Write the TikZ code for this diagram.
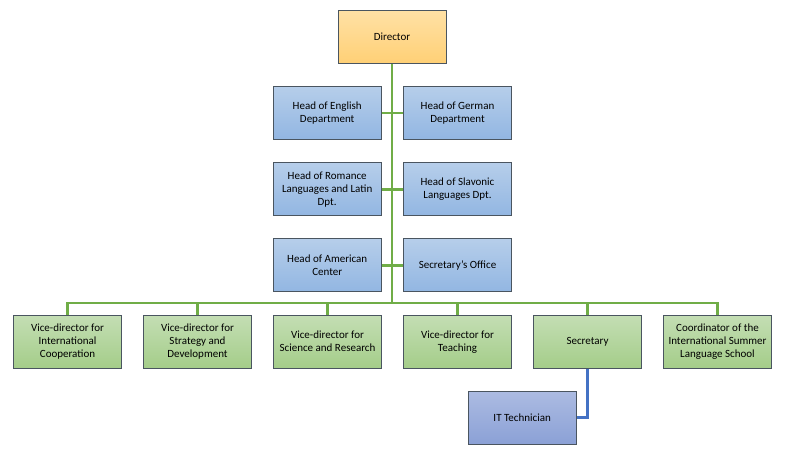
\documentclass[tikz,border=0pt]{standalone}
\usepackage{fontspec}
\setmainfont{Carlito}
\definecolor{gline}{HTML}{70AD47}
\definecolor{bline}{HTML}{4472C4}
\definecolor{bord}{HTML}{4A5560}
\tikzset{
  box/.style={draw=bord, line width=0.8pt, minimum width=108pt, minimum height=53pt,
    inner sep=1pt, align=center, font=\fontsize{11}{13}\selectfont},
  dirbox/.style={box, top color={rgb,255:red,255;green,225;blue,165}, bottom color={rgb,255:red,255;green,208;blue,118}},
  bluebox/.style={box, top color={rgb,255:red,182;green,206;blue,234}, bottom color={rgb,255:red,146;green,182;blue,226}},
  greenbox/.style={box, top color={rgb,255:red,196;green,222;blue,180}, bottom color={rgb,255:red,164;green,205;blue,137}},
  itbox/.style={box, top color={rgb,255:red,172;green,187;blue,226}, bottom color={rgb,255:red,139;green,161;blue,214}},
  gconn/.style={draw=gline, line width=2.4pt},
  bconn/.style={draw=bline, line width=2.2pt},
}
\begin{document}
\begin{tikzpicture}[x=1pt,y=-1pt]
\useasboundingbox (0,0) rectangle (786,460);
% trunk coordinate
\coordinate (bus) at (392,303);
% connectors first (behind boxes)
\node[dirbox] (dir) at (392,36.7) {Director};
\node[bluebox] (eng) at (327.2,112.8) {Head of English\\Department};
\node[bluebox] (ger) at (457.5,112.8) {Head of German\\Department};
\node[bluebox] (rom) at (327.2,189.3) {Head of Romance\\Languages and Latin\\Dpt.};
\node[bluebox] (sla) at (457.5,189.3) {Head of Slavonic\\Languages Dpt.};
\node[bluebox] (ame) at (327.2,265.3) {Head of American\\Center};
\node[bluebox] (sof) at (457.5,265.3) {Secretary's Office};
\node[greenbox] (g1) at (67.5,341.7) {Vice-director for\\International\\Cooperation};
\node[greenbox] (g2) at (197.5,341.7) {Vice-director for\\Strategy and\\Development};
\node[greenbox] (g3) at (327.5,341.7) {Vice-director for\\Science and Research};
\node[greenbox] (g4) at (457.5,341.7) {Vice-director for\\Teaching};
\node[greenbox] (g5) at (587.5,341.7) {Secretary};
\node[greenbox] (g6) at (717.5,341.7) {Coordinator of the\\International Summer\\Language School};
\node[itbox] (it) at (522.2,417.5) {IT Technician};
\begin{scope}[on background layer/.try]
\end{scope}
\draw[gconn] (dir.south) -- (bus);
\draw[gconn] (eng.east) -- (ger.west);
\draw[gconn] (rom.east) -- (sla.west);
\draw[gconn] (ame.east) -- (sof.west);
\draw[gconn] (g1.north) |- (bus) -| (g6.north);
\draw[gconn] (g2.north) -- (g2.north |- bus);
\draw[gconn] (g3.north) -- (g3.north |- bus);
\draw[gconn] (g4.north) -- (g4.north |- bus);
\draw[gconn] (g5.north) -- (g5.north |- bus);
\draw[bconn] (g5.south) |- (it.east);
\end{tikzpicture}
\end{document}
